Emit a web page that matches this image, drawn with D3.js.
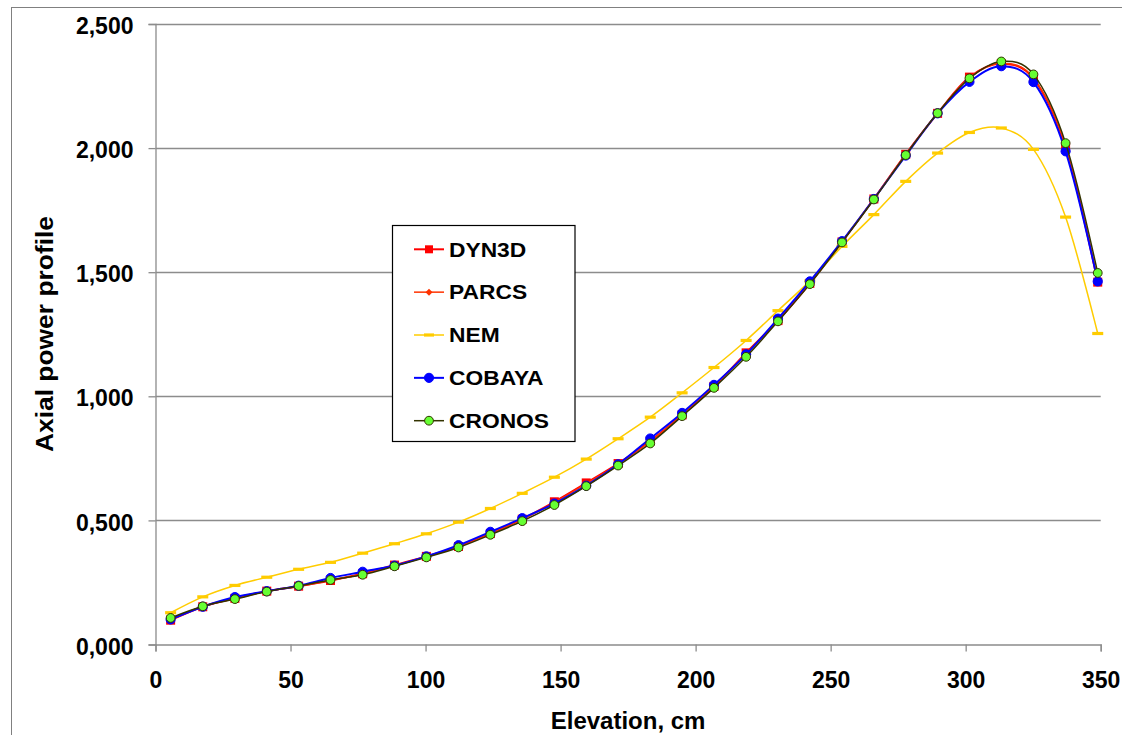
<!DOCTYPE html>
<html>
<head>
<meta charset="utf-8">
<script src="https://cdn.jsdelivr.net/npm/d3@7"></script>
<style>
  html, body { margin: 0; padding: 0; background: #fff; }
  svg { display: block; font-family: "Liberation Sans", Arial, sans-serif; }
</style>
</head>
<body>
<svg id="chart" width="1122" height="735"></svg>
<script>
// ---------------- DATA ----------------
const elevation = [5.6, 17.5, 29.4, 41.2, 53.0, 64.8, 76.7, 88.5, 100.3, 112.2,
  124.0, 135.8, 147.7, 159.5, 171.3, 183.2, 195.0, 206.8, 218.7, 230.5,
  242.3, 254.2, 266.0, 277.8, 289.6, 301.4, 313.2, 325.1, 337.0, 348.9];

const dyn3d = [0.098, 0.152, 0.186, 0.215, 0.235, 0.258, 0.285, 0.320, 0.355, 0.395,
  0.447, 0.505, 0.575, 0.651, 0.729, 0.820, 0.925, 1.040, 1.175, 1.305,
  1.455, 1.622, 1.795, 1.975, 2.140, 2.286, 2.340, 2.280, 2.004, 1.460];

const parcs = [0.099, 0.152, 0.186, 0.214, 0.235, 0.258, 0.284, 0.318, 0.354, 0.394,
  0.446, 0.504, 0.572, 0.648, 0.727, 0.818, 0.924, 1.040, 1.172, 1.305,
  1.456, 1.622, 1.796, 1.975, 2.141, 2.284, 2.342, 2.283, 2.006, 1.462];

const nem = [0.128, 0.192, 0.238, 0.271, 0.303, 0.331, 0.368, 0.406, 0.446, 0.493,
  0.548, 0.609, 0.674, 0.747, 0.829, 0.916, 1.014, 1.116, 1.225, 1.345,
  1.465, 1.604, 1.732, 1.866, 1.980, 2.063, 2.081, 1.995, 1.722, 1.253];

const cobaya = [0.101, 0.152, 0.191, 0.215, 0.237, 0.268, 0.293, 0.318, 0.355, 0.400,
  0.454, 0.509, 0.568, 0.640, 0.726, 0.830, 0.933, 1.046, 1.169, 1.313,
  1.463, 1.625, 1.795, 1.970, 2.140, 2.267, 2.330, 2.266, 1.987, 1.463];

const cronos = [0.107, 0.154, 0.183, 0.213, 0.236, 0.260, 0.281, 0.315, 0.351, 0.391,
  0.442, 0.497, 0.562, 0.638, 0.721, 0.810, 0.920, 1.034, 1.159, 1.302,
  1.452, 1.620, 1.793, 1.972, 2.141, 2.281, 2.349, 2.297, 2.020, 1.497];

const seriesNames = ["DYN3D", "PARCS", "NEM", "COBAYA", "CRONOS"];
const xTicks = [0, 50, 100, 150, 200, 250, 300, 350];
const yTicks = [0, 0.5, 1.0, 1.5, 2.0, 2.5];
const xTitle = "Elevation, cm";
const yTitle = "Axial power profile";

// ---------------- STYLES ----------------
const styles = {
  "DYN3D":  { line: "#FF0000", width: 2,   marker: "square",  fill: "#FF0000", stroke: "#FF0000", size: 9 },
  "PARCS":  { line: "#FF3300", width: 1.5, marker: "diamond", fill: "#FF3300", stroke: "#FF3300", size: 7 },
  "NEM":    { line: "#FFCC00", width: 1.5, marker: "dash",    fill: "#FFCC00", stroke: "none",    size: 11 },
  "COBAYA": { line: "#0000FF", width: 2,   marker: "circle",  fill: "#0000FF", stroke: "#0000FF", size: 4.6 },
  "CRONOS": { line: "#333300", width: 1.5, marker: "circle",  fill: "#66FF33", stroke: "#333300", size: 4.4 }
};
const values = { "DYN3D": dyn3d, "PARCS": parcs, "NEM": nem, "COBAYA": cobaya, "CRONOS": cronos };

// ---------------- LAYOUT ----------------
const svg = d3.select("#chart");
const plotLeft = 155.5, plotRight = 1100.7, plotTop = 24, plotBottom = 644.5;

const x = d3.scaleLinear().domain([0, 350]).range([plotLeft, plotRight]);
const y = d3.scaleLinear().domain([0, 2.5]).range([plotBottom, plotTop]);

const loc = d3.formatLocale({ decimal: ",", thousands: ".", grouping: [3], currency: ["", ""] });
const yFmt = loc.format(".3f");

// outer chart border
svg.append("rect")
  .attr("x", 11.5).attr("y", 7.5).attr("width", 1300).attr("height", 900)
  .attr("fill", "none").attr("stroke", "#808080").attr("stroke-width", 1);

// gridlines
svg.append("g").selectAll("line").data(yTicks.filter(d => d > 0)).join("line")
  .attr("x1", plotLeft).attr("x2", plotRight)
  .attr("y1", d => Math.round(y(d)) + 0.5).attr("y2", d => Math.round(y(d)) + 0.5)
  .attr("stroke", "#8c8c8c").attr("stroke-width", 1.3);

// y axis
const yAxis = svg.append("g").attr("transform", `translate(${plotLeft},0)`)
  .call(d3.axisLeft(y).tickValues(yTicks).tickFormat(yFmt).tickSize(7).tickPadding(15));
yAxis.select(".domain").attr("stroke", "#8c8c8c").attr("stroke-width", 1.3);
yAxis.selectAll(".tick line").attr("stroke", "#8c8c8c").attr("stroke-width", 1.3);
yAxis.selectAll(".tick text")
  .attr("font-size", 23).attr("font-weight", "bold").attr("fill", "#000")
  .attr("font-family", "Liberation Sans, Arial, sans-serif").attr("dy", "0.42em");

// x axis
const xAxis = svg.append("g").attr("transform", `translate(0,${plotBottom})`)
  .call(d3.axisBottom(x).tickValues(xTicks).tickFormat(d3.format("d")).tickSize(7).tickPadding(20));
xAxis.select(".domain").attr("stroke", "#8c8c8c").attr("stroke-width", 1.3);
xAxis.selectAll(".tick line").attr("stroke", "#8c8c8c").attr("stroke-width", 1.3);
xAxis.selectAll(".tick text")
  .attr("font-size", 23).attr("font-weight", "bold").attr("fill", "#000")
  .attr("font-family", "Liberation Sans, Arial, sans-serif");

// axis titles
svg.append("text")
  .attr("x", (plotLeft + plotRight) / 2).attr("y", 729)
  .attr("text-anchor", "middle").attr("font-size", 24).attr("font-weight", "bold")
  .text(xTitle);

svg.append("text")
  .attr("transform", `translate(53,334) rotate(-90) scale(1.1,1)`)
  .attr("text-anchor", "middle").attr("font-size", 24).attr("font-weight", "bold")
  .text(yTitle);

// ---------------- SERIES ----------------
const line = d3.line()
  .x(d => x(d[0])).y(d => y(d[1]))
  .curve(d3.curveCardinal.tension(0));

function drawMarker(g, st) {
  if (st.marker === "square") {
    g.append("rect").attr("x", -st.size / 2).attr("y", -st.size / 2)
      .attr("width", st.size).attr("height", st.size).attr("fill", st.fill);
  } else if (st.marker === "diamond") {
    const s = st.size / 2;
    g.append("path").attr("d", `M0,${-s}L${s},0L0,${s}L${-s},0Z`).attr("fill", st.fill);
  } else if (st.marker === "dash") {
    g.append("rect").attr("x", -st.size / 2).attr("y", -1.6)
      .attr("width", st.size).attr("height", 3.2).attr("fill", st.fill);
  } else if (st.marker === "circle") {
    g.append("circle").attr("r", st.size).attr("fill", st.fill)
      .attr("stroke", st.stroke).attr("stroke-width", st.stroke === "none" ? 0 : 1);
  }
}

seriesNames.forEach(name => {
  const st = styles[name];
  const pts = elevation.map((e, i) => [e, values[name][i]]);
  const g = svg.append("g");
  g.append("path").attr("d", line(pts)).attr("fill", "none")
    .attr("stroke", st.line).attr("stroke-width", st.width);
  g.selectAll("g.m").data(pts).join("g").attr("class", "m")
    .attr("transform", d => `translate(${x(d[0])},${y(d[1])})`)
    .each(function () { drawMarker(d3.select(this), st); });
});

// ---------------- LEGEND ----------------
const legend = svg.append("g");
legend.append("rect")
  .attr("x", 392.5).attr("y", 225.5).attr("width", 182.5).attr("height", 216)
  .attr("fill", "#fff").attr("stroke", "#000").attr("stroke-width", 1.2);

seriesNames.forEach((name, i) => {
  const st = styles[name];
  const cy = 249.3 + i * 42.85;
  const item = legend.append("g");
  item.append("line").attr("x1", 414).attr("x2", 444).attr("y1", cy).attr("y2", cy)
    .attr("stroke", st.line).attr("stroke-width", st.width);
  const m = item.append("g").attr("transform", `translate(429,${cy})`);
  const legSt = Object.assign({}, st);
  if (st.marker === "square") legSt.size = 8;
  if (st.marker === "dash") legSt.size = 10;
  drawMarker(m, legSt);
  item.append("text")
    .attr("transform", `translate(449,${cy + 7.3}) scale(1.14,1)`)
    .attr("font-size", 20).attr("font-weight", "bold").attr("fill", "#000")
    .text(name);
});
</script>
</body>
</html>
